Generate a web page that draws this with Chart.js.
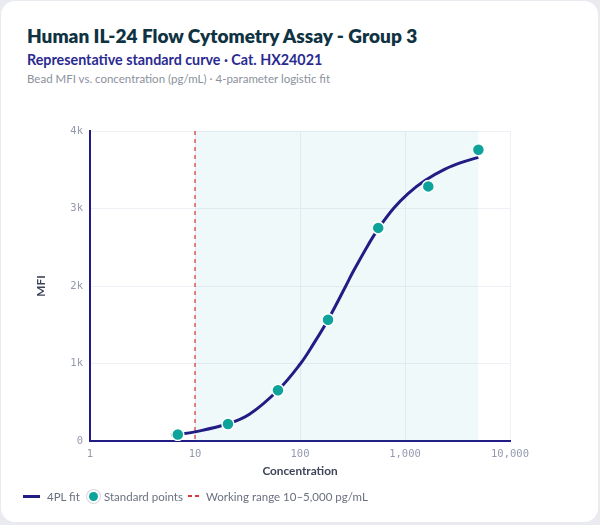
<!DOCTYPE html>
<html>
<head>
<meta charset="utf-8">
<script src="https://cdn.jsdelivr.net/npm/chart.js@4.4.1/dist/chart.umd.min.js"></script>
<style>
  html, body { margin: 0; padding: 0; width: 600px; height: 525px; background: #e9ebf1; overflow: hidden; }
  #card { position: absolute; left: 1px; top: 1px; width: 597px; height: 521px; background: #ffffff; border-radius: 14px; }
  .t { position: absolute; left: 27px; white-space: nowrap; font-family: "Lato", "Noto Sans", sans-serif; }
  #title { top: 24px; font-size: 19px; line-height: 24px; font-weight: 800; color: #0f3342; }
  #sub { top: 51px; font-size: 14.3px; line-height: 18px; font-weight: 700; color: #2b2a90; }
  #note { top: 71px; font-size: 11.5px; line-height: 16px; color: #8c919c; }
  #wrap { position: absolute; left: 0; top: 110px; width: 600px; height: 380px; }
  .li { position: absolute; top: 487px; height: 18px; display: flex; align-items: center; white-space: nowrap; font-family: "Lato", "Noto Sans", sans-serif; font-size: 11.5px; color: #6b7080; }
  .sw-line { width: 17px; height: 3px; background: #211d85; margin-right: 7px; }
  .sw-dot { width: 9px; height: 9px; border-radius: 50%; background: #0ea39a; box-shadow: 0 0 0 2px #fff, 0 0 0 3px #d5d8de; margin: 0 6px 0 0; }
  .sw-dash { width: 11px; height: 2px; background: repeating-linear-gradient(to right, #d8393e 0 4px, transparent 4px 7px); margin-right: 7px; }
</style>
</head>
<body>
<div id="card"></div>
<div class="t" id="title">Human IL-24 Flow Cytometry Assay - Group 3</div>
<div class="t" id="sub">Representative standard curve · Cat. HX24021</div>
<div class="t" id="note">Bead MFI vs. concentration (pg/mL) · 4-parameter logistic fit</div>
<div id="wrap"><canvas id="c"></canvas></div>
<script>
// Standard points (concentration pg/mL, MFI)
const stdConc = [6.86, 20.6, 61.7, 185, 556, 1667, 5000];
const stdMFI  = [84, 220, 655, 1565, 2750, 3285, 3757];
// 4PL fitted curve
const fitConc = [5.9, 6.86, 10, 20.6, 33, 61.7, 100, 134, 185, 273, 322, 450, 556, 780, 1076, 1550, 2404, 3467, 5000];
const fitMFI  = [78, 86, 118, 222, 345, 655, 990, 1250, 1565, 2000, 2190, 2540, 2738, 3002, 3196, 3361, 3507, 3595, 3660];
// Working range (pg/mL)
const workingRange = [10, 5000];
// Axis ticks
const xTicks = [1, 10, 100, 1000, 10000];
const yTicks = [0, 1000, 2000, 3000, 4000];
const seriesLabels = ["4PL fit", "Standard points", "Working range 10–5,000 pg/mL"];

const NAVY = '#211d85', TEAL = '#0ea39a';

const rangePlugin = {
  id: 'range',
  beforeDatasetsDraw(chart) {
    const {ctx, chartArea: a, scales: {x}} = chart;
    const x0 = x.getPixelForValue(workingRange[0]);
    const x1 = x.getPixelForValue(workingRange[1]);
    ctx.save();
    ctx.fillStyle = 'rgba(14,163,170,0.065)';
    ctx.fillRect(x0, a.top, x1 - x0, a.bottom - a.top);
    ctx.strokeStyle = 'rgba(214,52,58,0.8)';
    ctx.lineWidth = 1.5;
    ctx.setLineDash([4, 4]);
    ctx.beginPath();
    ctx.moveTo(x0, a.top);
    ctx.lineTo(x0, a.bottom);
    ctx.stroke();
    ctx.restore();
  }
};

const monoFont = { family: '"DejaVu Sans Mono", monospace', size: 10.5 };
const axisTitleFont = { family: '"Lato", "Noto Sans", sans-serif', size: 11.8, weight: 'bold' };

new Chart(document.getElementById('c'), {
  data: {
    datasets: [
      {
        type: 'scatter',
        label: seriesLabels[1],
        data: stdConc.map((c, i) => ({x: c, y: stdMFI[i]})),
        pointRadius: 6,
        pointHoverRadius: 6,
        backgroundColor: TEAL,
        borderColor: '#ffffff',
        borderWidth: 1.5,
        order: 0
      },
      {
        type: 'line',
        label: seriesLabels[0],
        data: fitConc.map((c, i) => ({x: c, y: fitMFI[i]})),
        borderColor: NAVY,
        borderWidth: 3,
        pointRadius: 0,
        fill: false,
        tension: 0.4,
        order: 1
      }
    ]
  },
  options: {
    responsive: true,
    maintainAspectRatio: false,
    animation: false,
    layout: { padding: { left: 0, right: 90, top: 21, bottom: 0 } },
    plugins: { legend: { display: false }, tooltip: { enabled: false } },
    scales: {
      x: {
        type: 'logarithmic',
        min: 1, max: 10000,
        afterBuildTicks(s) { s.ticks = xTicks.map(v => ({value: v})); },
        afterFit(s) { s.height = 49; },
        ticks: {
          font: monoFont, color: '#9499ad', padding: 7, maxRotation: 0, autoSkip: false,
          callback: (v) => Number(v).toLocaleString('en-US')
        },
        grid: { color: '#eef0f5', lineWidth: 1, drawTicks: false },
        border: { display: true, color: NAVY, width: 2 },
        title: {
          display: true, text: 'Concentration', color: '#3e4458',
          font: axisTitleFont, padding: { top: 0, bottom: 12 }
        }
      },
      y: {
        min: 0, max: 4000,
        afterBuildTicks(s) { s.ticks = yTicks.map(v => ({value: v})); },
        afterFit(s) { s.width = 90; },
        ticks: {
          font: monoFont, color: '#9499ad', padding: 7,
          callback: (v) => v === 0 ? '0' : (v / 1000) + 'k'
        },
        grid: { color: '#eef0f5', lineWidth: 1, drawTicks: false },
        border: { display: true, color: NAVY, width: 2 },
        title: {
          display: true, text: 'MFI', color: '#3e4458',
          font: axisTitleFont, padding: { top: 34, bottom: 0 }
        }
      }
    }
  },
  plugins: [rangePlugin]
});

// HTML legend built from the series labels
const swClasses = ['sw-line', 'sw-dot', 'sw-dash'];
const legendLeft = [23, 89, 188];
seriesLabels.forEach((lab, i) => {
  const item = document.createElement('div');
  item.className = 'li';
  item.style.left = legendLeft[i] + 'px';
  const sw = document.createElement('span');
  sw.className = swClasses[i];
  const tx = document.createElement('span');
  tx.textContent = lab;
  item.appendChild(sw); item.appendChild(tx);
  document.body.appendChild(item);
});
</script>
</body>
</html>
